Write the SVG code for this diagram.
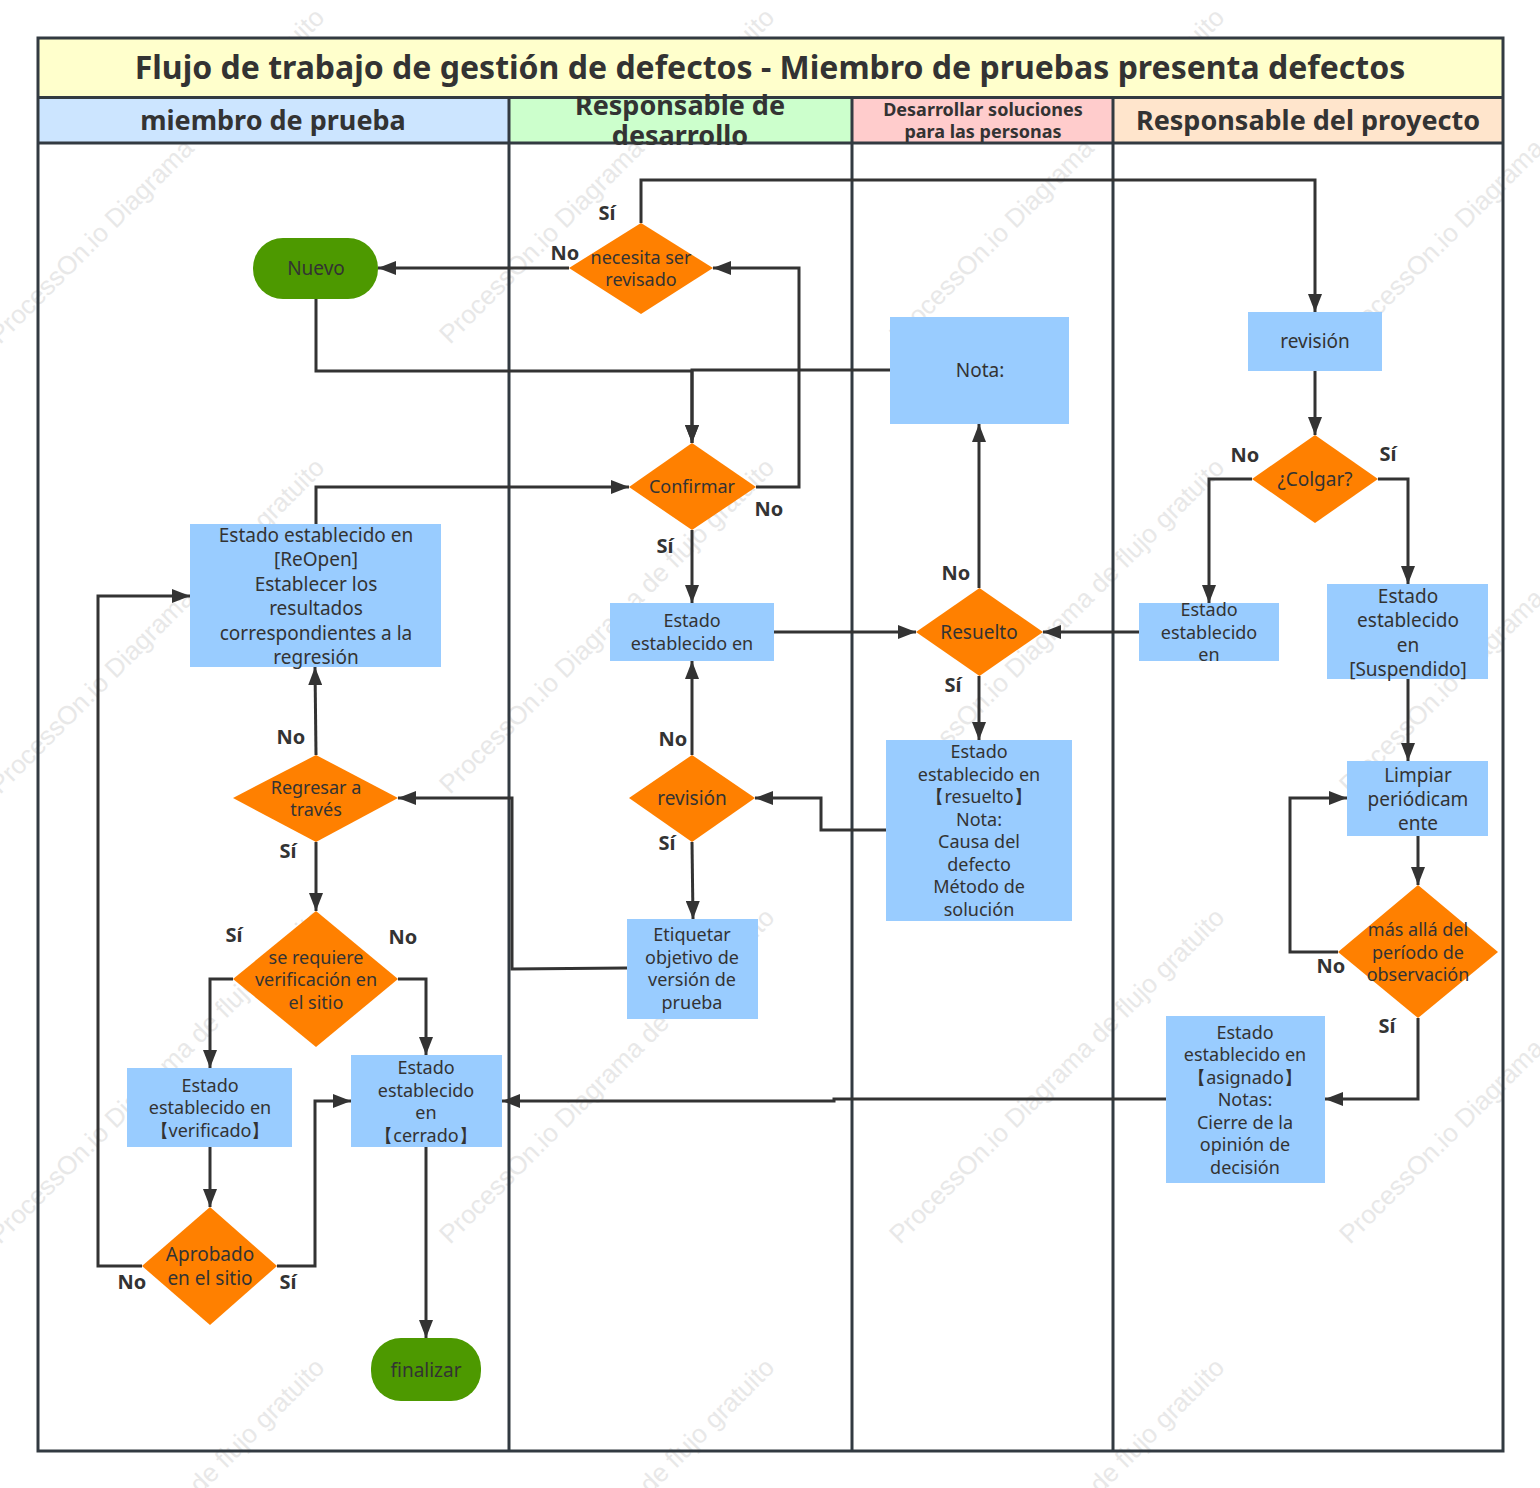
<svg xmlns="http://www.w3.org/2000/svg" width="1540" height="1488" viewBox="0 0 1540 1488">
<style>
text{font-family:"Noto Sans","Open Sans",sans-serif;fill:#333;text-anchor:middle;dominant-baseline:auto}
.n{font-size:19px}
.s{font-size:18px}
.l{font-size:20px;font-weight:700}
.h{font-size:27px;font-weight:700}
.wm{font-family:"Liberation Sans",sans-serif;font-size:26px;fill:#e8e8e8;text-anchor:start}
.r{fill:#99ccff}
.d{fill:#ff8000}
.g{fill:#4d9900}
.c{fill:none;stroke:#333;stroke-width:3;marker-end:url(#a)}
.lane{fill:none;stroke:#323a41;stroke-width:3}
</style>
<defs>
<marker id="a" markerUnits="userSpaceOnUse" markerWidth="20" markerHeight="14" refX="18" refY="7" orient="auto"><path d="M0 0L18 7L0 14Z" fill="#333"/></marker>
<text id="w" class="wm" transform="rotate(-45)">ProcessOn.io Diagrama de flujo gratuito</text>
</defs>
<rect width="1540" height="1488" fill="#fff"/>
<g id="watermark">
<use href="#w" x="0" y="0" transform="translate(0 345)"/><use href="#w" transform="translate(450 345)"/><use href="#w" transform="translate(900 345)"/><use href="#w" transform="translate(1350 345)"/>
<use href="#w" transform="translate(0 795)"/><use href="#w" transform="translate(450 795)"/><use href="#w" transform="translate(900 795)"/><use href="#w" transform="translate(1350 795)"/>
<use href="#w" transform="translate(0 1245)"/><use href="#w" transform="translate(450 1245)"/><use href="#w" transform="translate(900 1245)"/><use href="#w" transform="translate(1350 1245)"/>
<use href="#w" transform="translate(0 1695)"/><use href="#w" transform="translate(450 1695)"/><use href="#w" transform="translate(900 1695)"/><use href="#w" transform="translate(1350 1695)"/>
</g>
<g id="swimlanes">
<rect x="38" y="38" width="1465" height="59" fill="#ffffcc"/>
<rect x="38" y="97" width="471" height="46" fill="#cce5ff"/>
<rect x="509" y="97" width="343" height="46" fill="#ccffcc"/>
<rect x="852" y="97" width="261" height="46" fill="#ffcccc"/>
<rect x="1113" y="97" width="390" height="46" fill="#ffe5cc"/>
<path class="lane" d="M38 38H1503V1451H38ZM38 97.500H1503M38 143H1503M509 97V1451M852 97V1451M1113 97V1451"/>
<text x="770" y="79" font-size="32" font-weight="700">Flujo de trabajo de gestión de defectos - Miembro de pruebas presenta defectos</text>
<text class="h" x="273" y="130">miembro de prueba</text>
<text class="h" x="680" y="115" font-size="25">Responsable de</text>
<text class="h" x="680" y="145" font-size="25">desarrollo</text>
<text x="983" y="116" font-size="18" font-weight="700">Desarrollar soluciones</text>
<text x="983" y="138" font-size="18" font-weight="700">para las personas</text>
<text class="h" x="1308" y="130">Responsable del proyecto</text>
</g>
<g id="connectors">
<path class="c" d="M641 223V180H1315V312"/>
<path class="c" d="M569 268H378"/>
<path class="c" d="M316 299V371H692V443"/>
<path class="c" d="M890 370H692V443"/>
<path class="c" d="M756 487H799V268H713"/>
<path class="c" d="M692 530V603"/>
<path class="c" d="M774 632H916"/>
<path class="c" d="M316 524V487H629"/>
<path class="c" d="M979 588V424"/>
<path class="c" d="M979 676V740"/>
<path class="c" d="M1139 632H1043"/>
<path class="c" d="M886 830H821V798H755"/>
<path class="c" d="M692 755V661"/>
<path class="c" d="M692 842L693 919"/>
<path class="c" d="M627 968L512 969V798H398"/>
<path class="c" d="M316 755L315 667"/>
<path class="c" d="M316 842V911"/>
<path class="c" d="M233 979H210V1068"/>
<path class="c" d="M398 979H426V1055"/>
<path class="c" d="M210 1147V1207"/>
<path class="c" d="M142 1266H98V596H190"/>
<path class="c" d="M277 1266H315V1101H351"/>
<path class="c" d="M426 1147V1338"/>
<path class="c" d="M1166 1099H834V1101H502"/>
<path class="c" d="M1315 371V435"/>
<path class="c" d="M1252 479H1209V603"/>
<path class="c" d="M1378 479H1408V584"/>
<path class="c" d="M1408 679V761"/>
<path class="c" d="M1418 836V885"/>
<path class="c" d="M1338 952H1290V798H1347"/>
<path class="c" d="M1418 1018V1099H1325"/>
</g>
<g id="n-nuevo"><rect class="g" x="253" y="238" width="125" height="61" rx="30"/><text class="n" x="316" y="275">Nuevo</text></g>
<g id="n-necesita"><path class="d" d="M569 268L641 223L713 268L641 314Z"/><text class="s" x="641" y="264">necesita ser</text><text class="s" x="641" y="286">revisado</text></g>
<g id="n-confirmar"><path class="d" d="M629 487L692 443L756 487L692 530Z"/><text class="s" x="692" y="493">Confirmar</text></g>
<g id="n-nota"><rect class="r" x="890" y="317" width="179" height="107"/><text class="n" x="980" y="377">Nota:</text></g>
<g id="n-revision-pm"><rect class="r" x="1248" y="312" width="134" height="59"/><text class="n" x="1315" y="348">revisión</text></g>
<g id="n-colgar"><path class="d" d="M1252 479L1315 435L1378 479L1315 523Z"/><text class="n" x="1315" y="486">¿Colgar?</text></g>
<g id="n-estado-dev"><rect class="r" x="610" y="603" width="164" height="58"/><text class="s" x="692" y="627">Estado</text><text class="s" x="692" y="650">establecido en</text></g>
<g id="n-resuelto"><path class="d" d="M916 632L979.500 588L1043 632L979.500 676Z"/><text class="n" x="979" y="639">Resuelto</text></g>
<g id="n-estado-pm"><rect class="r" x="1139" y="603" width="140" height="58"/><text class="s" x="1209" y="616">Estado</text><text class="s" x="1209" y="639">establecido</text><text class="s" x="1209" y="661">en</text></g>
<g id="n-suspendido"><rect class="r" x="1327" y="584" width="161" height="95"/><text class="n" x="1408" y="603">Estado</text><text class="n" x="1408" y="627">establecido</text><text class="n" x="1408" y="652">en</text><text class="n" x="1408" y="676">[Suspendido]</text></g>
<g id="n-limpiar"><rect class="r" x="1347" y="761" width="141" height="75"/><text class="n" x="1418" y="782">Limpiar</text><text class="n" x="1418" y="806">periódicam</text><text class="n" x="1418" y="830">ente</text></g>
<g id="n-masalla"><path class="d" d="M1338 952L1418 885L1498 952L1418 1018Z"/><text class="s" x="1418" y="936">más allá del</text><text class="s" x="1418" y="959">período de</text><text class="s" x="1418" y="981">observación</text></g>
<g id="n-asignado"><rect class="r" x="1166" y="1016" width="159" height="167"/><text class="s" x="1245" y="1039">Estado</text><text class="s" x="1245" y="1061">establecido en</text><text class="s" x="1245" y="1084">【asignado】</text><text class="s" x="1245" y="1106">Notas:</text><text class="s" x="1245" y="1129">Cierre de la</text><text class="s" x="1245" y="1151">opinión de</text><text class="s" x="1245" y="1174">decisión</text></g>
<g id="n-resuelto-estado"><rect class="r" x="886" y="740" width="186" height="181"/><text class="s" x="979" y="758">Estado</text><text class="s" x="979" y="781">establecido en</text><text class="s" x="979" y="803">【resuelto】</text><text class="s" x="979" y="826">Nota:</text><text class="s" x="979" y="848">Causa del</text><text class="s" x="979" y="871">defecto</text><text class="s" x="979" y="893">Método de</text><text class="s" x="979" y="916">solución</text></g>
<g id="n-revision-dev"><path class="d" d="M629 798L692 755L755 798L692 842Z"/><text class="n" x="692" y="805">revisión</text></g>
<g id="n-etiquetar"><rect class="r" x="627" y="919" width="131" height="100"/><text class="s" x="692" y="941">Etiquetar</text><text class="s" x="692" y="964">objetivo de</text><text class="s" x="692" y="986">versión de</text><text class="s" x="692" y="1009">prueba</text></g>
<g id="n-reopen"><rect class="r" x="190" y="524" width="251" height="143"/><text class="n" x="316" y="542">Estado establecido en</text><text class="n" x="316" y="566">[ReOpen]</text><text class="n" x="316" y="591">Establecer los</text><text class="n" x="316" y="615">resultados</text><text class="n" x="316" y="640">correspondientes a la</text><text class="n" x="316" y="664">regresión</text></g>
<g id="n-regresar"><path class="d" d="M233 798L316 755L398 798L316 842Z"/><text class="s" x="316" y="794">Regresar a</text><text class="s" x="316" y="816">través</text></g>
<g id="n-serequiere"><path class="d" d="M233 979L316 911L398 979L316 1047Z"/><text class="s" x="316" y="964">se requiere</text><text class="s" x="316" y="986">verificación en</text><text class="s" x="316" y="1009">el sitio</text></g>
<g id="n-verificado"><rect class="r" x="127" y="1068" width="165" height="79"/><text class="s" x="210" y="1092">Estado</text><text class="s" x="210" y="1114">establecido en</text><text class="s" x="210" y="1137">【verificado】</text></g>
<g id="n-cerrado"><rect class="r" x="351" y="1055" width="151" height="92"/><text class="s" x="426" y="1074">Estado</text><text class="s" x="426" y="1097">establecido</text><text class="s" x="426" y="1119">en</text><text class="s" x="426" y="1142">【cerrado】</text></g>
<g id="n-aprobado"><path class="d" d="M142 1266L210 1207L277 1266L210 1325Z"/><text class="n" x="210" y="1261">Aprobado</text><text class="n" x="210" y="1285">en el sitio</text></g>
<g id="n-finalizar"><rect class="g" x="371" y="1338" width="110" height="63" rx="30"/><text class="n" x="426" y="1377">finalizar</text></g>
<g id="edge-labels">
<text class="l" x="607" y="220">Sí</text><text class="l" x="565" y="260">No</text>
<text class="l" x="769" y="516">No</text><text class="l" x="665" y="553">Sí</text>
<text class="l" x="956" y="580">No</text><text class="l" x="953" y="692">Sí</text>
<text class="l" x="673" y="746">No</text><text class="l" x="667" y="850">Sí</text>
<text class="l" x="291" y="744">No</text><text class="l" x="288" y="858">Sí</text>
<text class="l" x="234" y="942">Sí</text><text class="l" x="403" y="944">No</text>
<text class="l" x="132" y="1289">No</text><text class="l" x="288" y="1289">Sí</text>
<text class="l" x="1245" y="462">No</text><text class="l" x="1388" y="461">Sí</text>
<text class="l" x="1331" y="973">No</text><text class="l" x="1387" y="1033">Sí</text>
</g>
</svg>
